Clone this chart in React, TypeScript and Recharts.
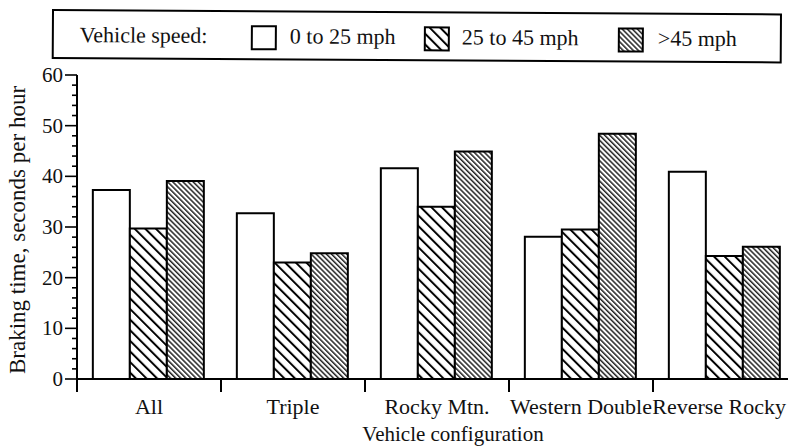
import React from 'react';
import { BarChart, Bar, XAxis, YAxis } from 'recharts';

const categories = ['All', 'Triple', 'Rocky Mtn.', 'Western Double', 'Reverse Rocky'];
const speed0to25 = [37.3, 32.7, 41.6, 28.1, 40.9];
const speed25to45 = [29.7, 23.0, 34.0, 29.5, 24.3];
const speedOver45 = [39.1, 24.8, 44.9, 48.4, 26.1];
const seriesNames = ['0 to 25 mph', '25 to 45 mph', '>45 mph'];
const legendTitle = 'Vehicle speed:';
const yTicks = [0, 2, 4, 6, 8, 10, 12, 14, 16, 18, 20, 22, 24, 26, 28, 30, 32, 34, 36, 38, 40, 42, 44, 46, 48, 50, 52, 54, 56, 58, 60];
const yMajorTicks = [0, 10, 20, 30, 40, 50, 60];
const yLabel = 'Braking time, seconds per hour';
const xLabel = 'Vehicle configuration';

const data = categories.map((c, i) => ({
  category: c,
  s1: speed0to25[i],
  s2: speed25to45[i],
  s3: speedOver45[i],
}));

const FONT = 'Liberation Serif';
const INK = '#111';

const fills = ['#ffffff', 'url(#hatchWide)', 'url(#hatchDense)'];
const legendFills = ['#ffffff', 'url(#lgHatchWide)', 'url(#lgHatchDense)'];

function YTick(props: any) {
  const { x, y, payload } = props;
  const major = yMajorTicks.includes(payload.value);
  return (
    <g>
      <line x1={x - (major ? 12 : 5)} y1={y} x2={x} y2={y} stroke="#000" strokeWidth={1.6} />
      {major && (
        <text x={x - 14} y={y + 7} textAnchor="end" fontFamily={FONT} fontSize={21} fill={INK}>
          {payload.value}
        </text>
      )}
    </g>
  );
}

function XTick(props: any) {
  const { x, y, payload, index } = props;
  const half = payload.offset ?? 0;
  const isLast = index === categories.length - 1;
  return (
    <g>
      <line x1={x - half} y1={y} x2={x - half} y2={y + 13} stroke="#000" strokeWidth={2} />
      <text
        x={isLast ? x + half - 11 : x}
        y={y + 35}
        textAnchor={isLast ? 'end' : 'middle'}
        fontFamily={FONT}
        fontSize={22}
        fill={INK}
      >
        {payload.value}
      </text>
    </g>
  );
}

function YLabel(props: any) {
  const vb = props.viewBox || { x: 0, y: 75, width: 77, height: 304 };
  const cx = vb.x + 25;
  const cy = vb.y + vb.height / 2 + 3;
  return (
    <text
      x={0}
      y={0}
      transform={`translate(${cx},${cy}) rotate(-90)`}
      textAnchor="middle"
      fontFamily={FONT}
      fontSize={23}
      fill={INK}
    >
      {yLabel}
    </text>
  );
}

function XLabel(props: any) {
  const vb = props.viewBox || { x: 77, y: 379, width: 720, height: 68 };
  return (
    <text x={vb.x + vb.width / 2 + 16} y={vb.y + 62} textAnchor="middle" fontFamily={FONT} fontSize={21} fill={INK}>
      {xLabel}
    </text>
  );
}

function LegendBox() {
  const swatchX = [252, 425, 619];
  const textX = [290, 462, 658];
  return (
    <svg width={788} height={447} style={{ position: 'absolute', left: 0, top: 0, pointerEvents: 'none' }}>
      <defs>
        <pattern id="lgHatchWide" patternUnits="userSpaceOnUse" width="7.5" height="7.5" patternTransform="rotate(-45)">
          <rect width="7.5" height="7.5" fill="#fff" />
          <rect x="0" y="0" width="2" height="7.5" fill="#000" />
        </pattern>
        <pattern id="lgHatchDense" patternUnits="userSpaceOnUse" width="3.6" height="3.6" patternTransform="rotate(-45)">
          <rect width="3.6" height="3.6" fill="#fff" />
          <rect x="0" y="0" width="1.5" height="3.6" fill="#222" />
        </pattern>
      </defs>
      <g transform="rotate(0.35, 53, 10)">
        <rect x={53} y={10} width={728} height={48} fill="#fff" stroke="#000" strokeWidth={2} />
        <text x={80} y={42} fontFamily={FONT} fontSize={22} fill={INK}>
          {legendTitle}
        </text>
        {seriesNames.map((name, i) => (
          <g key={name}>
            <rect x={swatchX[i]} y={25} width={24} height={23} fill={legendFills[i]} stroke="#000" strokeWidth={2} />
            <text x={textX[i]} y={42} fontFamily={FONT} fontSize={22} fill={INK}>
              {name}
            </text>
          </g>
        ))}
      </g>
    </svg>
  );
}

export default function App() {
  return (
    <div style={{ position: 'fixed', left: 0, top: 0, width: 788, height: 447, overflow: 'hidden', background: '#fff' }}>
      <BarChart
        width={800}
        height={447}
        data={data}
        margin={{ top: 75, right: 3, bottom: 0, left: 0 }}
        barCategoryGap="11%"
        barGap={0}
      >
        <defs>
          <pattern id="hatchWide" patternUnits="userSpaceOnUse" width="7.5" height="7.5" patternTransform="rotate(-45)">
            <rect width="7.5" height="7.5" fill="#fff" />
            <rect x="0" y="0" width="2" height="7.5" fill="#000" />
          </pattern>
          <pattern id="hatchDense" patternUnits="userSpaceOnUse" width="3.6" height="3.6" patternTransform="rotate(-45)">
            <rect width="3.6" height="3.6" fill="#fff" />
            <rect x="0" y="0" width="1.5" height="3.6" fill="#222" />
          </pattern>
        </defs>
        <XAxis
          dataKey="category"
          height={68}
          interval={0}
          tickSize={0}
          tickMargin={0}
          tickLine={false}
          axisLine={{ stroke: '#000', strokeWidth: 2 }}
          tick={<XTick />}
          label={<XLabel />}
        />
        <YAxis
          width={77}
          domain={[0, 60]}
          ticks={yTicks}
          interval={0}
          tickSize={0}
          tickMargin={0}
          tickLine={false}
          axisLine={{ stroke: '#000', strokeWidth: 2 }}
          tick={<YTick />}
          label={<YLabel />}
        />
        <Bar dataKey="s1" name={seriesNames[0]} fill={fills[0]} stroke="#000" strokeWidth={2} isAnimationActive={false} />
        <Bar dataKey="s2" name={seriesNames[1]} fill={fills[1]} stroke="#000" strokeWidth={2} isAnimationActive={false} />
        <Bar dataKey="s3" name={seriesNames[2]} fill={fills[2]} stroke="#000" strokeWidth={2} isAnimationActive={false} />
      </BarChart>
      <LegendBox />
    </div>
  );
}
